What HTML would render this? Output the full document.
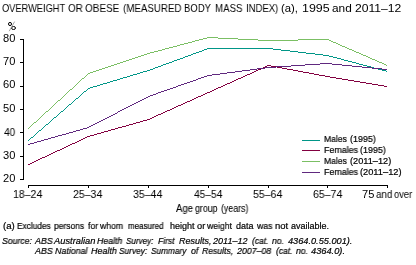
<!DOCTYPE html>
<html><head><meta charset="utf-8">
<style>
html,body{margin:0;padding:0;background:#fff;}
body{width:416px;height:265px;position:relative;overflow:hidden;font-family:"Liberation Sans",sans-serif;color:#000;}
.t{position:absolute;white-space:nowrap;line-height:1;transform-origin:0 0;will-change:transform;}
.s9{-webkit-text-stroke:0.2px #000;}
.s10{-webkit-text-stroke:0.1px #000;}
svg{position:absolute;left:0;top:0;}
</style></head><body>
<div class="t" style="left:2.16px;top:3px;font-size:11px;transform:scaleX(0.8419)">OVERWEIGHT</div>
<div class="t" style="left:68.20px;top:3px;font-size:11px;transform:scaleX(0.9000)">OR</div>
<div class="t" style="left:85.29px;top:3px;font-size:11px;transform:scaleX(0.9056)">OBESE</div>
<div class="t" style="left:122.51px;top:3px;font-size:11px;transform:scaleX(0.8862)">(MEASURED</div>
<div class="t" style="left:184.43px;top:3px;font-size:11px;transform:scaleX(0.8667)">BODY</div>
<div class="t" style="left:214.62px;top:3px;font-size:11px;transform:scaleX(0.8833)">MASS</div>
<div class="t" style="left:245.53px;top:3px;font-size:11px;transform:scaleX(0.8667)">INDEX)</div>
<div class="t" style="left:281.37px;top:3px;font-size:11px;transform:scaleX(1.0267)">(a),</div>
<div class="t" style="left:301.97px;top:3px;font-size:11px;transform:scaleX(1.1304)">1995</div>
<div class="t" style="left:331.82px;top:3px;font-size:11px;transform:scaleX(1.0765)">and</div>
<div class="t" style="left:354.50px;top:3px;font-size:11px;transform:scaleX(1.1024)">2011–12</div>
<div class="t" style="left:2.59px;top:33px;font-size:11px;transform:scaleX(1.0091)">80</div>
<div class="t" style="left:2.59px;top:56px;font-size:11px;transform:scaleX(1.0091)">70</div>
<div class="t" style="left:2.59px;top:79px;font-size:11px;transform:scaleX(1.0091)">60</div>
<div class="t" style="left:2.59px;top:103px;font-size:11px;transform:scaleX(1.0091)">50</div>
<div class="t" style="left:3.60px;top:127px;font-size:11px;transform:scaleX(0.9250)">40</div>
<div class="t" style="left:2.59px;top:150px;font-size:11px;transform:scaleX(1.0091)">30</div>
<div class="t" style="left:2.59px;top:173px;font-size:11px;transform:scaleX(1.0091)">20</div>
<div class="t" style="left:12.89px;top:189px;font-size:11px;transform:scaleX(0.9603)">18–24</div>
<div class="t" style="left:72.89px;top:189px;font-size:11px;transform:scaleX(0.9603)">25–34</div>
<div class="t" style="left:132.89px;top:189px;font-size:11px;transform:scaleX(0.9603)">35–44</div>
<div class="t" style="left:193.85px;top:189px;font-size:11px;transform:scaleX(0.9283)">45–54</div>
<div class="t" style="left:252.89px;top:189px;font-size:11px;transform:scaleX(0.9603)">55–64</div>
<div class="t" style="left:312.89px;top:189px;font-size:11px;transform:scaleX(0.9603)">65–74</div>
<div class="t" style="left:361.99px;top:189px;font-size:11px;transform:scaleX(1.0091)">75</div>
<div class="t" style="left:375.91px;top:189px;font-size:11px;transform:scaleX(0.8941)">and</div>
<div class="t" style="left:394.25px;top:189px;font-size:11px;transform:scaleX(0.8550)">over</div>
<div class="t s10" style="left:176.00px;top:204px;font-size:10px;transform:scaleX(0.9529)">Age</div>
<div class="t s10" style="left:195.20px;top:204px;font-size:10px;transform:scaleX(0.8800)">group</div>
<div class="t s10" style="left:221.32px;top:204px;font-size:10px;transform:scaleX(0.8800)">(years)</div>
<div class="t s9" style="left:324.05px;top:135px;font-size:9px;transform:scaleX(0.9522)">Males</div>
<div class="t s9" style="left:349.81px;top:135px;font-size:9px;transform:scaleX(0.9920)">(1995)</div>
<div class="t s9" style="left:324.02px;top:146px;font-size:9px;transform:scaleX(0.9848)">Females</div>
<div class="t s9" style="left:359.81px;top:146px;font-size:9px;transform:scaleX(0.9920)">(1995)</div>
<div class="t s9" style="left:324.05px;top:157px;font-size:9px;transform:scaleX(0.9522)">Males</div>
<div class="t s9" style="left:349.78px;top:157px;font-size:9px;transform:scaleX(1.0205)">(2011–12)</div>
<div class="t s9" style="left:324.02px;top:168px;font-size:9px;transform:scaleX(0.9848)">Females</div>
<div class="t s9" style="left:359.77px;top:168px;font-size:9px;transform:scaleX(1.0282)">(2011–12)</div>
<div class="t s9" style="left:2.63px;top:222px;font-size:9px;transform:scaleX(1.0700)">(a)</div>
<div class="t s9" style="left:16.88px;top:222px;font-size:9px;transform:scaleX(0.9229)">Excludes</div>
<div class="t s9" style="left:54.26px;top:222px;font-size:9px;transform:scaleX(0.9419)">persons</div>
<div class="t s9" style="left:88.40px;top:222px;font-size:9px;transform:scaleX(0.9600)">for</div>
<div class="t s9" style="left:100.40px;top:222px;font-size:9px;transform:scaleX(0.9625)">whom</div>
<div class="t s9" style="left:128.21px;top:222px;font-size:9px;transform:scaleX(0.8872)">measured</div>
<div class="t s9" style="left:169.90px;top:222px;font-size:9px;transform:scaleX(1.0043)">height</div>
<div class="t s9" style="left:196.90px;top:222px;font-size:9px;transform:scaleX(1.0250)">or</div>
<div class="t s9" style="left:207.20px;top:222px;font-size:9px;transform:scaleX(0.9615)">weight</div>
<div class="t s9" style="left:236.30px;top:222px;font-size:9px;transform:scaleX(1.0000)">data</div>
<div class="t s9" style="left:256.70px;top:222px;font-size:9px;transform:scaleX(0.9625)">was</div>
<div class="t s9" style="left:275.15px;top:222px;font-size:9px;transform:scaleX(1.0545)">not</div>
<div class="t s9" style="left:290.70px;top:222px;font-size:9px;transform:scaleX(1.0000)">available.</div>
<div class="t s9" style="left:2.03px;top:237px;font-size:9px;font-style:italic;transform:scaleX(0.9667)">Source:</div>
<div class="t s9" style="left:34.90px;top:237px;font-size:9px;font-style:italic;transform:scaleX(0.9833)">ABS</div>
<div class="t s9" style="left:53.70px;top:237px;font-size:9px;font-style:italic;transform:scaleX(1.0350)">Australian</div>
<div class="t s9" style="left:97.30px;top:237px;font-size:9px;font-style:italic;transform:scaleX(0.9731)">Health</div>
<div class="t s9" style="left:125.60px;top:237px;font-size:9px;font-style:italic;transform:scaleX(0.9000)">Survey:</div>
<div class="t s9" style="left:157.70px;top:237px;font-size:9px;font-style:italic;transform:scaleX(0.9471)">First</div>
<div class="t s9" style="left:178.80px;top:237px;font-size:9px;font-style:italic;transform:scaleX(0.9967)">Results,</div>
<div class="t s9" style="left:213.40px;top:237px;font-size:9px;font-style:italic;transform:scaleX(1.0029)">2011–12</div>
<div class="t s9" style="left:251.90px;top:237px;font-size:9px;font-style:italic;transform:scaleX(0.9437)">(cat.</div>
<div class="t s9" style="left:272.20px;top:237px;font-size:9px;font-style:italic;transform:scaleX(0.9545)">no.</div>
<div class="t s9" style="left:288.00px;top:237px;font-size:9px;font-style:italic;transform:scaleX(1.0210)">4364.0.55.001).</div>
<div class="t s9" style="left:34.90px;top:247px;font-size:9px;font-style:italic;transform:scaleX(0.9833)">ABS</div>
<div class="t s9" style="left:54.90px;top:247px;font-size:9px;font-style:italic;transform:scaleX(0.9818)">National</div>
<div class="t s9" style="left:91.20px;top:247px;font-size:9px;font-style:italic;transform:scaleX(0.9923)">Health</div>
<div class="t s9" style="left:119.38px;top:247px;font-size:9px;font-style:italic;transform:scaleX(0.9241)">Survey:</div>
<div class="t s9" style="left:151.28px;top:247px;font-size:9px;font-style:italic;transform:scaleX(0.9184)">Summary</div>
<div class="t s9" style="left:190.90px;top:247px;font-size:9px;font-style:italic;transform:scaleX(0.9625)">of</div>
<div class="t s9" style="left:201.90px;top:247px;font-size:9px;font-style:italic;transform:scaleX(0.9600)">Results,</div>
<div class="t s9" style="left:236.90px;top:247px;font-size:9px;font-style:italic;transform:scaleX(0.9771)">2007–08</div>
<div class="t s9" style="left:276.30px;top:247px;font-size:9px;font-style:italic;transform:scaleX(0.9437)">(cat.</div>
<div class="t s9" style="left:296.30px;top:247px;font-size:9px;font-style:italic;transform:scaleX(0.9545)">no.</div>
<div class="t s9" style="left:311.40px;top:247px;font-size:9px;font-style:italic;transform:scaleX(1.0281)">4364.0).</div>
<svg width="416" height="265" viewBox="0 0 416 265" shape-rendering="crispEdges"><path fill="#000" d="M23 39h1v141h-1zM20 39h3v1h-3zM20 62h3v1h-3zM20 86h3v1h-3zM20 109h3v1h-3zM20 132h3v1h-3zM20 156h3v1h-3zM20 179h3v1h-3zM28 185h360v1h-360zM28 186h1v2h-1zM88 186h1v2h-1zM148 186h1v2h-1zM208 186h1v2h-1zM268 186h1v2h-1zM327 186h1v2h-1zM387 186h1v2h-1z"/><path fill="#009687" d="M207 48h66v1h-66zM204 49h3v1h-3zM273 49h8v1h-8zM202 50h2v1h-2zM281 50h9v1h-9zM199 51h3v1h-3zM290 51h8v1h-8zM196 52h3v1h-3zM298 52h8v1h-8zM193 53h3v1h-3zM306 53h9v1h-9zM191 54h2v1h-2zM315 54h8v1h-8zM188 55h3v1h-3zM323 55h6v1h-6zM185 56h3v1h-3zM329 56h4v1h-4zM183 57h2v1h-2zM333 57h4v1h-4zM180 58h3v1h-3zM337 58h4v1h-4zM177 59h3v1h-3zM341 59h3v1h-3zM174 60h3v1h-3zM344 60h4v1h-4zM172 61h2v1h-2zM348 61h4v1h-4zM169 62h3v1h-3zM352 62h4v1h-4zM166 63h3v1h-3zM356 63h3v1h-3zM163 64h3v1h-3zM359 64h4v1h-4zM161 65h2v1h-2zM363 65h4v1h-4zM158 66h3v1h-3zM367 66h4v1h-4zM155 67h3v1h-3zM371 67h3v1h-3zM153 68h2v1h-2zM374 68h4v1h-4zM150 69h3v1h-3zM378 69h4v1h-4zM147 70h3v1h-3zM382 70h4v1h-4zM143 71h4v1h-4zM386 71h1v1h-1zM140 72h3v1h-3zM137 73h3v1h-3zM133 74h4v1h-4zM130 75h3v1h-3zM127 76h3v1h-3zM123 77h4v1h-4zM120 78h3v1h-3zM117 79h3v1h-3zM113 80h4v1h-4zM110 81h3v1h-3zM107 82h3v1h-3zM103 83h4v1h-4zM100 84h3v1h-3zM97 85h3v1h-3zM93 86h4v1h-4zM90 87h3v1h-3zM88 88h2v1h-2zM87 89h1v1h-1zM86 90h1v1h-1zM84 91h2v1h-2zM83 92h1v1h-1zM82 93h1v1h-1zM81 94h1v1h-1zM80 95h1v1h-1zM79 96h1v1h-1zM78 97h1v1h-1zM76 98h2v1h-2zM75 99h1v1h-1zM74 100h1v1h-1zM73 101h1v1h-1zM72 102h1v1h-1zM71 103h1v1h-1zM69 104h2v1h-2zM68 105h1v1h-1zM67 106h1v1h-1zM66 107h1v1h-1zM65 108h1v1h-1zM64 109h1v1h-1zM63 110h1v1h-1zM61 111h2v1h-2zM60 112h1v1h-1zM59 113h1v1h-1zM58 114h1v1h-1zM57 115h1v1h-1zM56 116h1v1h-1zM54 117h2v1h-2zM53 118h1v1h-1zM52 119h1v1h-1zM51 120h1v1h-1zM50 121h1v1h-1zM49 122h1v1h-1zM48 123h1v1h-1zM46 124h2v1h-2zM45 125h1v1h-1zM44 126h1v1h-1zM43 127h1v1h-1zM42 128h1v1h-1zM41 129h1v1h-1zM39 130h2v1h-2zM38 131h1v1h-1zM37 132h1v1h-1zM36 133h1v1h-1zM35 134h1v1h-1zM34 135h1v1h-1zM33 136h1v1h-1zM31 137h2v1h-2zM30 138h1v1h-1zM29 139h1v1h-1zM28 140h1v1h-1z"/><path fill="#820040" d="M267 65h4v1h-4zM265 66h2v1h-2zM271 66h6v1h-6zM263 67h2v1h-2zM277 67h5v1h-5zM261 68h2v1h-2zM282 68h5v1h-5zM258 69h3v1h-3zM287 69h6v1h-6zM256 70h2v1h-2zM293 70h5v1h-5zM254 71h2v1h-2zM298 71h5v1h-5zM252 72h2v1h-2zM303 72h6v1h-6zM250 73h2v1h-2zM309 73h5v1h-5zM247 74h3v1h-3zM314 74h5v1h-5zM245 75h2v1h-2zM319 75h6v1h-6zM243 76h2v1h-2zM325 76h5v1h-5zM241 77h2v1h-2zM330 77h6v1h-6zM238 78h3v1h-3zM336 78h6v1h-6zM236 79h2v1h-2zM342 79h6v1h-6zM234 80h2v1h-2zM348 80h6v1h-6zM232 81h2v1h-2zM354 81h6v1h-6zM230 82h2v1h-2zM360 82h6v1h-6zM227 83h3v1h-3zM366 83h6v1h-6zM225 84h2v1h-2zM372 84h6v1h-6zM223 85h2v1h-2zM378 85h6v1h-6zM221 86h2v1h-2zM384 86h3v1h-3zM218 87h3v1h-3zM216 88h2v1h-2zM214 89h2v1h-2zM212 90h2v1h-2zM210 91h2v1h-2zM207 92h3v1h-3zM205 93h2v1h-2zM203 94h2v1h-2zM201 95h2v1h-2zM198 96h3v1h-3zM196 97h2v1h-2zM194 98h2v1h-2zM192 99h2v1h-2zM190 100h2v1h-2zM187 101h3v1h-3zM185 102h2v1h-2zM183 103h2v1h-2zM181 104h2v1h-2zM178 105h3v1h-3zM176 106h2v1h-2zM174 107h2v1h-2zM172 108h2v1h-2zM170 109h2v1h-2zM167 110h3v1h-3zM165 111h2v1h-2zM163 112h2v1h-2zM161 113h2v1h-2zM158 114h3v1h-3zM156 115h2v1h-2zM154 116h2v1h-2zM152 117h2v1h-2zM150 118h2v1h-2zM147 119h3v1h-3zM143 120h4v1h-4zM140 121h3v1h-3zM136 122h4v1h-4zM133 123h3v1h-3zM129 124h4v1h-4zM126 125h3v1h-3zM122 126h4v1h-4zM118 127h4v1h-4zM115 128h3v1h-3zM111 129h4v1h-4zM108 130h3v1h-3zM104 131h4v1h-4zM101 132h3v1h-3zM97 133h4v1h-4zM94 134h3v1h-3zM90 135h4v1h-4zM87 136h3v1h-3zM85 137h2v1h-2zM83 138h2v1h-2zM81 139h2v1h-2zM79 140h2v1h-2zM77 141h2v1h-2zM75 142h2v1h-2zM72 143h3v1h-3zM70 144h2v1h-2zM68 145h2v1h-2zM66 146h2v1h-2zM64 147h2v1h-2zM62 148h2v1h-2zM60 149h2v1h-2zM57 150h3v1h-3zM55 151h2v1h-2zM53 152h2v1h-2zM51 153h2v1h-2zM49 154h2v1h-2zM47 155h2v1h-2zM45 156h2v1h-2zM42 157h3v1h-3zM40 158h2v1h-2zM38 159h2v1h-2zM36 160h2v1h-2zM34 161h2v1h-2zM32 162h2v1h-2zM30 163h2v1h-2zM28 164h2v1h-2z"/><path fill="#7BBF64" d="M207 37h11v1h-11zM203 38h4v1h-4zM218 38h20v1h-20zM199 39h4v1h-4zM238 39h20v1h-20zM298 39h31v1h-31zM195 40h4v1h-4zM258 40h40v1h-40zM329 40h2v1h-2zM192 41h3v1h-3zM331 41h2v1h-2zM188 42h4v1h-4zM333 42h3v1h-3zM184 43h4v1h-4zM336 43h2v1h-2zM180 44h4v1h-4zM338 44h2v1h-2zM177 45h3v1h-3zM340 45h2v1h-2zM173 46h4v1h-4zM342 46h3v1h-3zM169 47h4v1h-4zM345 47h2v1h-2zM165 48h4v1h-4zM347 48h2v1h-2zM162 49h3v1h-3zM349 49h3v1h-3zM158 50h4v1h-4zM352 50h2v1h-2zM154 51h4v1h-4zM354 51h2v1h-2zM150 52h4v1h-4zM356 52h3v1h-3zM147 53h3v1h-3zM359 53h2v1h-2zM144 54h3v1h-3zM361 54h2v1h-2zM141 55h3v1h-3zM363 55h3v1h-3zM138 56h3v1h-3zM366 56h2v1h-2zM135 57h3v1h-3zM368 57h2v1h-2zM132 58h3v1h-3zM370 58h2v1h-2zM129 59h3v1h-3zM372 59h3v1h-3zM126 60h3v1h-3zM375 60h2v1h-2zM123 61h3v1h-3zM377 61h2v1h-2zM120 62h3v1h-3zM379 62h3v1h-3zM117 63h3v1h-3zM382 63h2v1h-2zM114 64h3v1h-3zM384 64h2v1h-2zM111 65h3v1h-3zM386 65h1v1h-1zM108 66h3v1h-3zM105 67h3v1h-3zM102 68h3v1h-3zM99 69h3v1h-3zM96 70h3v1h-3zM93 71h3v1h-3zM90 72h3v1h-3zM88 73h2v1h-2zM87 74h1v1h-1zM86 75h1v1h-1zM85 76h1v1h-1zM84 77h1v1h-1zM82 78h2v1h-2zM81 79h1v1h-1zM80 80h1v1h-1zM79 81h1v1h-1zM78 82h1v1h-1zM77 83h1v1h-1zM76 84h1v1h-1zM75 85h1v1h-1zM74 86h1v1h-1zM73 87h1v1h-1zM72 88h1v1h-1zM70 89h2v1h-2zM69 90h1v1h-1zM68 91h1v1h-1zM67 92h1v1h-1zM66 93h1v1h-1zM65 94h1v1h-1zM64 95h1v1h-1zM63 96h1v1h-1zM62 97h1v1h-1zM61 98h1v1h-1zM60 99h1v1h-1zM58 100h2v1h-2zM57 101h1v1h-1zM56 102h1v1h-1zM55 103h1v1h-1zM54 104h1v1h-1zM53 105h1v1h-1zM52 106h1v1h-1zM51 107h1v1h-1zM50 108h1v1h-1zM49 109h1v1h-1zM48 110h1v1h-1zM46 111h2v1h-2zM45 112h1v1h-1zM44 113h1v1h-1zM43 114h1v1h-1zM42 115h1v1h-1zM41 116h1v1h-1zM40 117h1v1h-1zM39 118h1v1h-1zM38 119h1v1h-1zM37 120h1v1h-1zM36 121h1v1h-1zM34 122h2v1h-2zM33 123h1v1h-1zM32 124h1v1h-1zM31 125h1v1h-1zM30 126h1v1h-1zM29 127h1v1h-1zM28 128h1v1h-1z"/><path fill="#60297F" d="M320 63h12v1h-12zM305 64h15v1h-15zM332 64h10v1h-10zM291 65h14v1h-14zM342 65h10v1h-10zM276 66h15v1h-15zM352 66h10v1h-10zM265 67h11v1h-11zM362 67h10v1h-10zM257 68h8v1h-8zM372 68h10v1h-10zM250 69h7v1h-7zM382 69h5v1h-5zM242 70h8v1h-8zM235 71h7v1h-7zM227 72h8v1h-8zM220 73h7v1h-7zM212 74h8v1h-8zM207 75h5v1h-5zM204 76h3v1h-3zM201 77h3v1h-3zM198 78h3v1h-3zM196 79h2v1h-2zM193 80h3v1h-3zM190 81h3v1h-3zM187 82h3v1h-3zM184 83h3v1h-3zM181 84h3v1h-3zM178 85h3v1h-3zM176 86h2v1h-2zM173 87h3v1h-3zM170 88h3v1h-3zM167 89h3v1h-3zM164 90h3v1h-3zM161 91h3v1h-3zM158 92h3v1h-3zM156 93h2v1h-2zM153 94h3v1h-3zM150 95h3v1h-3zM148 96h2v1h-2zM146 97h2v1h-2zM144 98h2v1h-2zM142 99h2v1h-2zM140 100h2v1h-2zM138 101h2v1h-2zM136 102h2v1h-2zM134 103h2v1h-2zM132 104h2v1h-2zM130 105h2v1h-2zM128 106h2v1h-2zM126 107h2v1h-2zM124 108h2v1h-2zM122 109h2v1h-2zM120 110h2v1h-2zM118 111h2v1h-2zM117 112h1v1h-1zM115 113h2v1h-2zM113 114h2v1h-2zM111 115h2v1h-2zM109 116h2v1h-2zM107 117h2v1h-2zM105 118h2v1h-2zM103 119h2v1h-2zM101 120h2v1h-2zM99 121h2v1h-2zM97 122h2v1h-2zM95 123h2v1h-2zM93 124h2v1h-2zM91 125h2v1h-2zM89 126h2v1h-2zM87 127h2v1h-2zM83 128h4v1h-4zM80 129h3v1h-3zM76 130h4v1h-4zM73 131h3v1h-3zM69 132h4v1h-4zM66 133h3v1h-3zM62 134h4v1h-4zM58 135h4v1h-4zM55 136h3v1h-3zM51 137h4v1h-4zM48 138h3v1h-3zM44 139h4v1h-4zM41 140h3v1h-3zM37 141h4v1h-4zM34 142h3v1h-3zM30 143h4v1h-4zM28 144h2v1h-2z"/><path fill="#009687" d="M302 140h18v1h-18z"/><path fill="#820040" d="M302 150h18v1h-18z"/><path fill="#7BBF64" d="M302 161h18v1h-18z"/><path fill="#60297F" d="M302 172h18v1h-18z"/><g fill="none" shape-rendering="auto"><ellipse cx="10" cy="24" rx="1.5" ry="1.6" stroke="#000" stroke-width="1"/><ellipse cx="13.5" cy="28" rx="2" ry="1.5" stroke="#000" stroke-width="1"/><path d="M14.6 21.6L9.2 31.2" stroke="#999" stroke-width="0.9"/></g></svg>
</body></html>
